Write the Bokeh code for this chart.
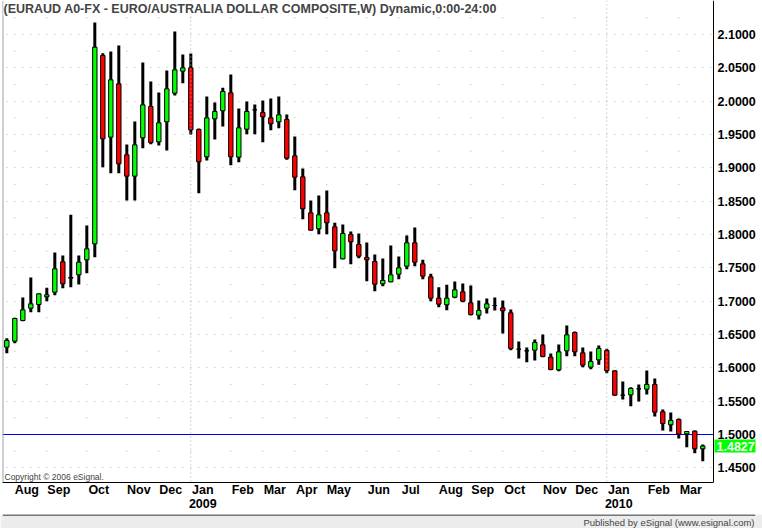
from bokeh.plotting import figure
from bokeh.models import (Range1d, FixedTicker, NumeralTickFormatter, Span, Label,
                          ColumnDataSource)
from bokeh.layouts import column
from bokeh.embed import file_html
from bokeh.resources import INLINE

# ---- weekly EUR/AUD bars (Jul 2008 - Mar 2010) ----
opens = [1.631, 1.640, 1.671, 1.6895, 1.695, 1.7065, 1.7135, 1.759, 1.7355, 1.7395,
         1.762, 1.786, 2.0685, 1.946, 2.026, 1.9195, 1.8875, 1.945, 1.992, 1.939,
         1.969, 2.012, 2.045, 2.050, 1.9575, 1.9165, 1.9735, 1.9855, 2.0125, 1.916,
         1.958, 1.987, 1.983, 1.975, 1.969, 1.9725, 1.918, 1.8865, 1.8325, 1.8085,
         1.8325, 1.8115, 1.7635, 1.800, 1.785, 1.7655, 1.7595, 1.726, 1.729, 1.7405,
         1.7525, 1.7875, 1.756, 1.7365, 1.7045, 1.6945, 1.706, 1.714, 1.6975, 1.679,
         1.6895, 1.6935, 1.690, 1.6825, 1.628, 1.6255, 1.6265, 1.6345, 1.616, 1.597,
         1.6255, 1.653, 1.6225, 1.601, 1.612, 1.626, 1.5955, 1.559, 1.5595, 1.5685,
         1.568, 1.575, 1.534, 1.5145, 1.5225, 1.501, 1.505, 1.4785]
highs = [1.6445, 1.675, 1.7055, 1.7355, 1.7115, 1.720, 1.773, 1.7685, 1.8295, 1.7685,
         1.8135, 2.118, 2.072, 2.0745, 2.0835, 1.935, 1.9695, 2.058, 2.0295, 2.013,
         2.046, 2.1045, 2.070, 2.0715, 1.959, 2.007, 1.998, 2.020, 2.040, 1.989,
         1.9995, 1.995, 2.001, 2.004, 2.007, 1.980, 1.947, 1.899, 1.851, 1.8585,
         1.866, 1.8175, 1.815, 1.8045, 1.8015, 1.788, 1.770, 1.764, 1.7835, 1.767,
         1.7985, 1.8105, 1.762, 1.741, 1.721, 1.7245, 1.7295, 1.7265, 1.7235, 1.701,
         1.704, 1.7055, 1.701, 1.6875, 1.6395, 1.6305, 1.6425, 1.650, 1.6215, 1.635,
         1.6635, 1.6545, 1.6305, 1.6245, 1.6335, 1.6285, 1.596, 1.5795, 1.571, 1.575,
         1.596, 1.584, 1.5375, 1.533, 1.524, 1.5045, 1.506, 1.485]
lows = [1.622, 1.637, 1.670, 1.6835, 1.6835, 1.700, 1.709, 1.7195, 1.721, 1.725,
        1.742, 1.766, 1.901, 1.892, 1.892, 1.851, 1.851, 1.9295, 1.9355, 1.9335,
        1.926, 2.0085, 2.027, 1.950, 1.862, 1.911, 1.9425, 1.962, 1.904, 1.9085,
        1.9505, 1.9505, 1.9385, 1.9565, 1.9595, 1.912, 1.8665, 1.823, 1.806, 1.8005,
        1.8005, 1.7495, 1.763, 1.7555, 1.7645, 1.730, 1.715, 1.7225, 1.7285, 1.733,
        1.748, 1.7525, 1.733, 1.700, 1.691, 1.6865, 1.7045, 1.6985, 1.6785, 1.6725,
        1.6815, 1.686, 1.6515, 1.6265, 1.614, 1.6085, 1.611, 1.616, 1.5965, 1.595,
        1.6175, 1.6175, 1.601, 1.598, 1.6045, 1.592, 1.558, 1.5525, 1.5425, 1.5495,
        1.560, 1.527, 1.506, 1.5045, 1.494, 1.481, 1.472, 1.460]
closes = [1.641, 1.674, 1.687, 1.696, 1.711, 1.7095, 1.7485, 1.726, 1.7345, 1.7585,
          1.7785, 2.081, 1.9435, 2.032, 1.906, 1.8875, 1.9345, 1.9945, 1.938, 1.9675,
          2.0185, 2.047, 2.050, 1.957, 1.909, 1.975, 1.9845, 2.0145, 1.9165, 1.960,
          1.9845, 1.987, 1.9765, 1.966, 1.9795, 1.9145, 1.886, 1.8385, 1.8065, 1.8295,
          1.8175, 1.7755, 1.8015, 1.789, 1.7675, 1.762, 1.7255, 1.731, 1.7395, 1.750,
          1.7875, 1.7585, 1.7375, 1.7045, 1.6955, 1.7045, 1.717, 1.700, 1.680, 1.686,
          1.696, 1.6935, 1.6855, 1.629, 1.628, 1.6255, 1.638, 1.617, 1.5975, 1.624,
          1.6495, 1.624, 1.604, 1.6095, 1.629, 1.596, 1.559, 1.559, 1.569, 1.5685,
          1.575, 1.5335, 1.5165, 1.521, 1.5005, 1.5045, 1.4785, 1.4827]

# bar index of the first week of each month, and the month labels
month_bar_index = [1, 5, 10, 15, 19, 23, 28, 32, 36, 40, 45, 49, 54, 58, 62, 67, 71, 75, 80, 84]
month_labels = ["Aug", "Sep", "Oct", "Nov", "Dec", "Jan\n2009", "Feb", "Mar", "Apr", "May",
                "Jun", "Jul", "Aug", "Sep", "Oct", "Nov", "Dec", "Jan\n2010", "Feb", "Mar"]
year_start_bars = [23, 75]

price_ticks = [1.45, 1.50, 1.55, 1.60, 1.65, 1.70, 1.75, 1.80, 1.85, 1.90,
               1.95, 2.00, 2.05, 2.10]
half_step_rows = [1.425, 1.475, 1.525, 1.575, 1.625, 1.675, 1.725, 1.775, 1.825,
                  1.875, 1.925, 1.975, 2.025, 2.075, 2.125]
reference_level = 1.5
last_price = 1.4827

title_text = "(EURAUD A0-FX - EURO/AUSTRALIA DOLLAR COMPOSITE,W) Dynamic,0:00-24:00"
copyright_text = "Copyright \u00a9 2006 eSignal."
publisher_text = "Published by eSignal (www.esignal.com)"

FONT = "Liberation Sans"
GREEN = "#00ff00"
RED = "#ff0000"
DOT = "#b4b4b4"

# x extents (bar units): chart area edge, and the price-scale strip to its right
x_lo = -0.54
x_edge = 88.34
x_hi = 93.59
y_lo, y_hi = 1.428, 2.151

n = len(opens)
xs = list(range(n))
tops = [max(o, c) for o, c in zip(opens, closes)]
bottoms = [min(o, c) for o, c in zip(opens, closes)]
colors = [GREEN if c >= o else RED for o, c in zip(opens, closes)]
src = ColumnDataSource(dict(x=xs, high=highs, low=lows, top=tops, bottom=bottoms, color=colors))

p = figure(width=762, height=514, x_range=Range1d(x_lo, x_hi), y_range=Range1d(y_lo, y_hi),
           toolbar_location=None, output_backend="svg",
           x_axis_location="below", y_axis_location="right",
           min_border_left=2, min_border_right=7, min_border_top=0, min_border_bottom=32)
p.background_fill_color = "white"
p.border_fill_color = "white"
p.outline_line_color = None

# grids
p.xgrid.visible = False
p.ygrid.ticker = FixedTicker(ticks=price_ticks)
p.ygrid.bounds = (x_lo, x_edge)
p.ygrid.grid_line_color = DOT
p.ygrid.grid_line_dash = "1 7"
p.ygrid.grid_line_dash_offset = 4

dot_x = [m for m in month_bar_index for r in half_step_rows]
dot_y = [r for m in month_bar_index for r in half_step_rows]
p.scatter(dot_x, dot_y, marker="square", size=1, line_color=None, fill_color=DOT)

for yb in year_start_bars:
    p.add_layout(Span(location=yb, dimension="height", line_color=DOT, line_width=1,
                      line_dash="1 3"))

# left edge and right border of the chart area
p.add_layout(Span(location=x_lo, dimension="height", line_color="#a0a0a0", line_width=2))
p.add_layout(Span(location=x_edge, dimension="height", line_color="black", line_width=1))

# horizontal reference line
p.segment(x0=[x_lo], y0=[reference_level], x1=[x_edge], y1=[reference_level],
          line_color="#0000ff", line_width=1)

# candles
p.segment(x0="x", y0="high", x1="x", y1="low", line_width=3, line_color="black", source=src)
p.vbar(x="x", width=0.55, top="top", bottom="bottom", fill_color="color",
       line_color="black", line_width=1, source=src)

# axes
xa = p.xaxis[0]
label_shift = 1.5
xa.ticker = FixedTicker(ticks=[m + label_shift for m in month_bar_index])
xa.major_label_overrides = {m + label_shift: lab for m, lab in zip(month_bar_index, month_labels)}
xa.bounds = (x_lo, x_edge)
xa.major_tick_in = 0
xa.major_tick_out = 0
xa.minor_tick_in = 0
xa.minor_tick_out = 0
xa.axis_line_color = "black"
xa.major_label_standoff = 0
xa.major_label_text_font = FONT
xa.major_label_text_font_size = "12.5px"
xa.major_label_text_font_style = "bold"
xa.major_label_text_color = "black"
xa.major_label_text_line_height = 1.05

ya = p.yaxis[0]
ya.ticker = FixedTicker(ticks=price_ticks)
ya.formatter = NumeralTickFormatter(format="0.0000")
ya.major_tick_in = 0
ya.major_tick_out = 0
ya.minor_tick_in = 0
ya.minor_tick_out = 0
ya.axis_line_color = None
ya.major_label_standoff = -38
ya.major_label_text_font = FONT
ya.major_label_text_font_size = "12.5px"
ya.major_label_text_font_style = "bold"
ya.major_label_text_color = "black"

# texts
p.add_layout(Label(x=1, y=y_hi, x_units="screen", y_units="data", y_offset=-1,
                   text=title_text, text_font=FONT, text_font_size="12.5px",
                   text_font_style="bold", text_baseline="top", text_align="left",
                   background_fill_color="white"))
p.add_layout(Label(x=2, y=y_lo, x_units="screen", y_units="data", y_offset=5.5,
                   text=copyright_text, text_font=FONT, text_font_size="8.5px",
                   text_baseline="middle", text_align="left"))
p.add_layout(Label(x=x_edge, y=last_price, x_offset=1,
                   text="%.4f" % last_price, text_font=FONT, text_font_size="12.5px",
                   text_font_style="bold", text_color="white", text_baseline="middle",
                   text_align="left", background_fill_color=GREEN, padding=2))

# bottom publisher strip
p2 = figure(width=762, height=14, x_range=Range1d(0, 1), y_range=Range1d(0, 14),
            toolbar_location=None, output_backend="svg",
            x_axis_location=None, y_axis_location=None,
            min_border_left=0, min_border_right=0, min_border_top=0, min_border_bottom=0)
p2.background_fill_color = "#ececec"
p2.border_fill_color = "#ececec"
p2.outline_line_color = None
p2.grid.visible = False
p2.segment(x0=[0], x1=[1], y0=[13.5], y1=[13.5], line_color="black", line_width=1)
p2.add_layout(Label(x=1, y=6.5, x_offset=-1, text=publisher_text,
                    text_font=FONT, text_font_size="9.5px", text_baseline="middle",
                    text_align="right"))

layout = column(p, p2, spacing=0)
open("out.html", "w").write(file_html(layout, INLINE))
